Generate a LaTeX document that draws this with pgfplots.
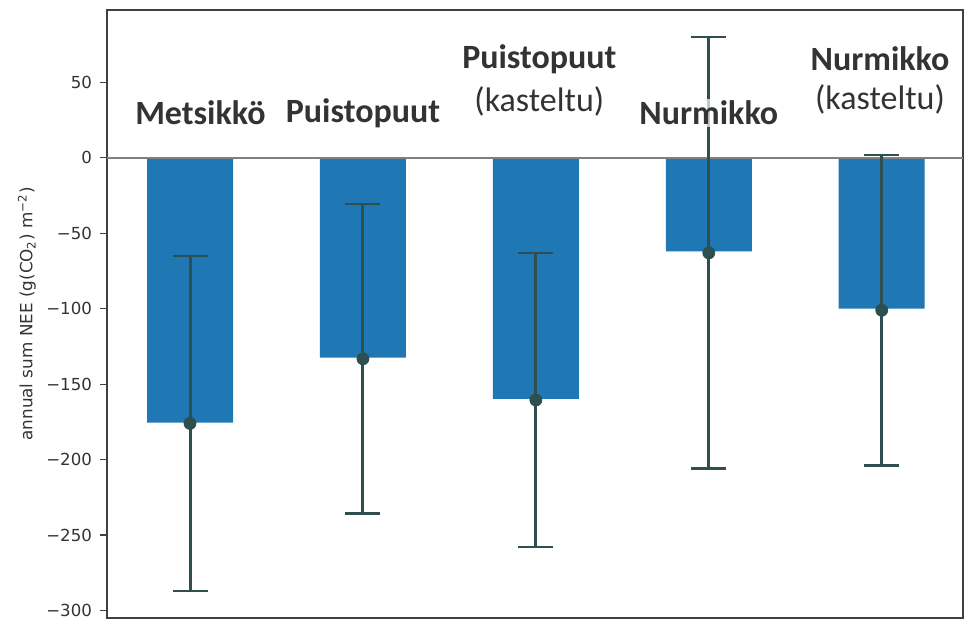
\documentclass[border=0pt]{standalone}
\usepackage{fontspec}
\setmainfont{DejaVu Sans}
\newfontfamily\labelfont{Carlito}
\usepackage{pgfplots}
\pgfplotsset{compat=1.18}
\usetikzlibrary{calc}
\definecolor{barblue}{HTML}{1F77B4}
\definecolor{errc}{HTML}{2F4F4F}
\definecolor{framec}{HTML}{404040}
\definecolor{txtc}{HTML}{333333}
\begin{document}
\begin{tikzpicture}
\begin{axis}[
  scale only axis,
  width=428pt, height=304pt,
  xmin=-0.48, xmax=4.47,
  ymin=-305, ymax=98,
  xtick=\empty,
  ytick={-300,-250,-200,-150,-100,-50,0,50},
  yticklabels={−300,−250,−200,−150,−100,−50,0,50},
  ytick pos=left,
  tick align=outside,
  major tick length=3.5pt,
  ytick style={draw=framec, line width=0.6pt},
  axis line style={draw=framec, line width=0.7pt},
  y tick label style={font=\fontsize{8.3}{9}\selectfont, text=txtc, xshift=-0.5pt},
  ylabel={annual sum NEE (g(CO\textsubscript{2}) m\textsuperscript{−2})},
  every axis y label/.style={at={(axis description cs:-0.0935,0.5)}, rotate=90, anchor=center, font=\fontsize{8.4}{9}\selectfont, text=txtc},
  clip=false,
]
\coordinate (bl) at (rel axis cs:0,0);
\coordinate (tr) at (rel axis cs:1,1);
\coordinate (l0) at (axis cs:0.06,29.8);
\coordinate (l1) at (axis cs:1.0,29.8);
\coordinate (l2a) at (axis cs:2.02,65.6);
\coordinate (l2b) at (axis cs:2.02,37.7);
\coordinate (l3) at (axis cs:3.0,29.8);
\coordinate (l4a) at (axis cs:3.99,65.6);
\coordinate (l4b) at (axis cs:3.99,39);
\addplot[ybar, bar width=43pt, fill=barblue, draw=none] coordinates {(0,-175.5) (1,-132.5) (2,-159.7) (3,-62) (4,-100)};
\addplot[gray, line width=1pt, forget plot] coordinates {(-0.48,0) (4.47,0)};
\addplot[only marks, mark=*, mark size=3pt, color=errc,
  error bars/.cd, y dir=both, y explicit,
  error bar style={line width=1.5pt, errc},
  error mark options={rotate=90, mark size=8.75pt, line width=1.3pt, errc}]
  coordinates {
    (0,-176) +- (0,111)
    (1,-133.2) +- (0,102.7)
    (2,-160.5) +- (0,97.5)
    (3,-63) +- (0,143)
    (4,-101) +- (0,103)
  };
\end{axis}
\tikzset{lab/.style={font=\labelfont\fontsize{17}{20}\selectfont, text=txtc, fill=white, fill opacity=0.7, text opacity=1, inner sep=1pt},
  blab/.style={lab, font=\labelfont\bfseries\fontsize{17}{20}\selectfont}}
\node[blab] at (l0) {Metsikkö};
\node[blab] at (l1) {Puistopuut};
\node[blab] at (l2a) {Puistopuut};
\node[lab] at (l2b) {(kasteltu)};
\node[blab] at (l3) {Nurmikko};
\node[blab] at (l4a) {Nurmikko};
\node[lab] at (l4b) {(kasteltu)};
\pgfresetboundingbox
\path ($(bl)+(-53.5pt,-1pt)$) rectangle ($(tr)+(3.5pt,5pt)$);
\end{tikzpicture}
\end{document}
